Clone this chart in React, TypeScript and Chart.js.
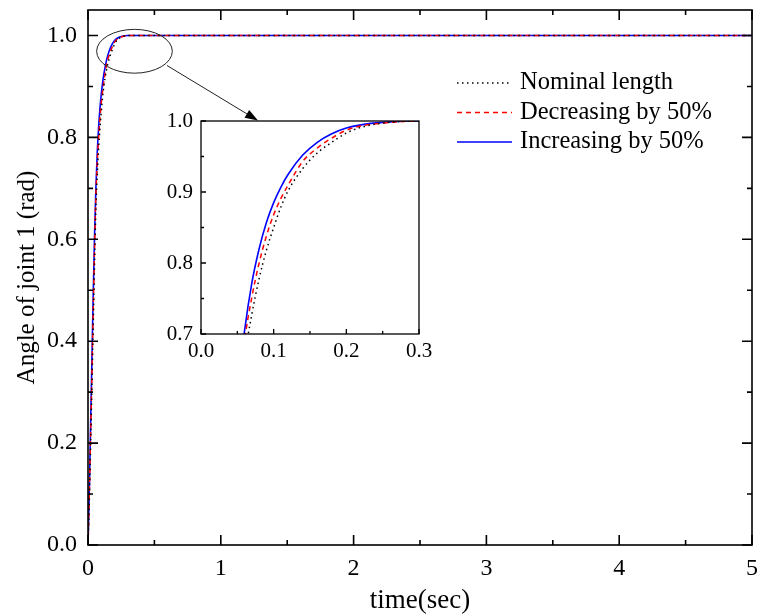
import React, { useEffect, useRef } from "react";
import { Chart, registerables } from "chart.js";

Chart.register(...registerables);

// ---- data ----
const times = [0, 0.01, 0.02, 0.03, 0.04, 0.05, 0.06, 0.07, 0.08, 0.09, 0.1, 0.11, 0.12, 0.14, 0.16, 0.18, 0.2, 0.22, 0.25, 0.3, 0.4, 1, 2, 3, 4, 5];
const nominal = [0, 0.09, 0.2, 0.32, 0.44, 0.56, 0.665, 0.728, 0.778, 0.818, 0.85, 0.879, 0.902, 0.933, 0.955, 0.97, 0.983, 0.991, 0.997, 1.0, 1.0, 1.0, 1.0, 1.0, 1.0, 1.0];
const decreasing = [0, 0.1, 0.22, 0.34, 0.47, 0.59, 0.69, 0.752, 0.8, 0.838, 0.868, 0.891, 0.91, 0.943, 0.962, 0.976, 0.987, 0.993, 0.997, 1.0, 1.0, 1.0, 1.0, 1.0, 1.0, 1.0];
const increasing = [0, 0.11, 0.24, 0.37, 0.5, 0.615, 0.705, 0.772, 0.82, 0.857, 0.885, 0.907, 0.925, 0.952, 0.97, 0.982, 0.99, 0.9945, 0.998, 1.0, 1.0, 1.0, 1.0, 1.0, 1.0, 1.0];
const seriesLabels = ["Nominal length", "Decreasing by 50%", "Increasing by 50%"];

const mainXTicks = [0, 1, 2, 3, 4, 5];
const mainXMinor = [0.5, 1.5, 2.5, 3.5, 4.5];
const mainYTicks = [0, 0.2, 0.4, 0.6, 0.8, 1.0];
const mainYMinor = [0.1, 0.3, 0.5, 0.7, 0.9];
const insetXTicks = [0, 0.1, 0.2, 0.3];
const insetXMinor = [0.05, 0.15, 0.25];
const insetYTicks = [0.7, 0.8, 0.9, 1.0];
const insetYMinor = [0.75, 0.85, 0.95];

// callout (data units of main chart)
const ellipseCenter = [0.35, 0.969];
const ellipseRadii = [0.285, 0.043];
const arrowFrom = [0.595, 0.941];
const arrowTo = [1.28, 0.833];

const FONT = "'Liberation Serif', 'Times New Roman', serif";

function makeDatasets() {
  const pts = (vals: number[]) => times.map((t, i) => ({ x: t, y: vals[i] }));
  return [
    { label: seriesLabels[0], data: pts(nominal), borderColor: "#000000", borderWidth: 1.5, borderDash: [1.5, 3.5], pointRadius: 0, cubicInterpolationMode: "monotone" as const, fill: false },
    { label: seriesLabels[1], data: pts(decreasing), borderColor: "#ff0000", borderWidth: 1.5, borderDash: [5, 4], pointRadius: 0, cubicInterpolationMode: "monotone" as const, fill: false },
    { label: seriesLabels[2], data: pts(increasing), borderColor: "#0000ff", borderWidth: 1.6, pointRadius: 0, cubicInterpolationMode: "monotone" as const, fill: false },
  ];
}

function frameTicksPlugin(xMajor: number[], xMinor: number[], yMajor: number[], yMinor: number[], allSides: boolean, majorLen: number, minorLen: number, lw: number) {
  return {
    id: "frameTicks",
    afterDatasetsDraw(chart: any) {
      const { ctx, chartArea: a, scales } = chart;
      const x = scales.x, y = scales.y;
      ctx.save();
      ctx.strokeStyle = "#000";
      ctx.lineWidth = lw;
      ctx.setLineDash([]);
      ctx.strokeRect(a.left, a.top, a.right - a.left, a.bottom - a.top);
      ctx.beginPath();
      const xt = (v: number, len: number) => {
        const px = x.getPixelForValue(v);
        ctx.moveTo(px, a.bottom); ctx.lineTo(px, a.bottom - len);
        if (allSides) { ctx.moveTo(px, a.top); ctx.lineTo(px, a.top + len); }
      };
      const yt = (v: number, len: number) => {
        const py = y.getPixelForValue(v);
        ctx.moveTo(a.left, py); ctx.lineTo(a.left + len, py);
        if (allSides) { ctx.moveTo(a.right, py); ctx.lineTo(a.right - len, py); }
      };
      xMajor.forEach((v) => xt(v, majorLen));
      xMinor.forEach((v) => xt(v, minorLen));
      yMajor.forEach((v) => yt(v, majorLen));
      yMinor.forEach((v) => yt(v, minorLen));
      ctx.stroke();
      ctx.restore();
    },
  };
}

const legendPlugin = {
  id: "customLegend",
  afterDraw(chart: any) {
    const { ctx, chartArea: a } = chart;
    const x0 = a.left + 369, x1 = x0 + 55, tx = x1 + 8;
    chart.data.datasets.forEach((ds: any, i: number) => {
      const yy = a.top + 73 + i * 29.5;
      ctx.save();
      ctx.strokeStyle = ds.borderColor;
      ctx.lineWidth = ds.borderWidth;
      ctx.setLineDash(ds.borderDash || []);
      ctx.beginPath(); ctx.moveTo(x0, yy); ctx.lineTo(x1, yy); ctx.stroke();
      ctx.setLineDash([]);
      ctx.fillStyle = "#000";
      ctx.font = `24.5px ${FONT}`;
      ctx.textBaseline = "middle";
      ctx.fillText(ds.label, tx, yy);
      ctx.restore();
    });
  },
};

const calloutPlugin = {
  id: "callout",
  afterDraw(chart: any) {
    const { ctx, scales } = chart;
    const x = scales.x, y = scales.y;
    const cx = x.getPixelForValue(ellipseCenter[0]);
    const cy = y.getPixelForValue(ellipseCenter[1]);
    const rx = x.getPixelForValue(ellipseCenter[0] + ellipseRadii[0]) - cx;
    const ry = cy - y.getPixelForValue(ellipseCenter[1] + ellipseRadii[1]);
    ctx.save();
    ctx.strokeStyle = "#222";
    ctx.lineWidth = 1;
    ctx.setLineDash([]);
    ctx.beginPath();
    ctx.ellipse(cx, cy, rx, ry, 0, 0, Math.PI * 2);
    ctx.stroke();
    const x1 = x.getPixelForValue(arrowFrom[0]), y1 = y.getPixelForValue(arrowFrom[1]);
    const x2 = x.getPixelForValue(arrowTo[0]), y2 = y.getPixelForValue(arrowTo[1]);
    const ang = Math.atan2(y2 - y1, x2 - x1);
    const hl = 13, hw = 4.5;
    const bx = x2 - hl * Math.cos(ang), by = y2 - hl * Math.sin(ang);
    ctx.beginPath(); ctx.moveTo(x1, y1); ctx.lineTo(bx, by); ctx.stroke();
    ctx.fillStyle = "#000";
    ctx.beginPath();
    ctx.moveTo(x2, y2);
    ctx.lineTo(bx + hw * Math.sin(ang), by - hw * Math.cos(ang));
    ctx.lineTo(bx - hw * Math.sin(ang), by + hw * Math.cos(ang));
    ctx.closePath();
    ctx.fill();
    ctx.restore();
  },
};

const fitX = (h: number) => (s: any) => { s.height = h; s.paddingLeft = 0; s.paddingRight = 0; };
const fitY = (w: number) => (s: any) => { s.width = w; s.paddingTop = 0; s.paddingBottom = 0; };

export default function App() {
  const mainRef = useRef<HTMLCanvasElement>(null);
  const insetRef = useRef<HTMLCanvasElement>(null);

  useEffect(() => {
    const main = new Chart(mainRef.current!, {
      type: "line",
      data: { datasets: makeDatasets() as any },
      options: {
        animation: false,
        responsive: false,
        events: [],
        layout: { padding: { left: 0, top: 10, right: 6, bottom: 0 } },
        plugins: { legend: { display: false }, tooltip: { enabled: false } },
        scales: {
          x: {
            type: "linear", min: 0, max: 5,
            afterFit: fitX(69),
            afterBuildTicks: (s: any) => { s.ticks = mainXTicks.map((v) => ({ value: v })); },
            grid: { display: false, drawTicks: false },
            border: { display: false },
            ticks: { color: "#000", padding: 9, font: { family: FONT, size: 24 }, callback: (v: any) => String(v), maxRotation: 0 },
            title: { display: true, text: "time(sec)", color: "#000", font: { family: FONT, size: 27, lineHeight: 1.0 }, padding: { top: 0, bottom: 0 } },
          },
          y: {
            type: "linear", min: 0, max: 1.05,
            afterFit: fitY(88),
            afterBuildTicks: (s: any) => { s.ticks = mainYTicks.map((v) => ({ value: v })); },
            grid: { display: false, drawTicks: false },
            border: { display: false },
            ticks: { color: "#000", padding: 11, font: { family: FONT, size: 24 }, callback: (v: any) => Number(v).toFixed(1) },
            title: { display: true, text: "Angle of joint 1 (rad)", color: "#000", font: { family: FONT, size: 25, lineHeight: 1.2 }, padding: { top: 12, bottom: 0 } },
          },
        },
      },
      plugins: [frameTicksPlugin(mainXTicks, mainXMinor, mainYTicks, mainYMinor, true, 10, 5, 1.6), legendPlugin, calloutPlugin],
    });

    const inset = new Chart(insetRef.current!, {
      type: "line",
      data: { datasets: makeDatasets() as any },
      options: {
        animation: false,
        responsive: false,
        events: [],
        layout: { padding: { left: 0, top: 11, right: 31, bottom: 0 } },
        plugins: { legend: { display: false }, tooltip: { enabled: false } },
        scales: {
          x: {
            type: "linear", min: 0, max: 0.3,
            afterFit: fitX(36),
            afterBuildTicks: (s: any) => { s.ticks = insetXTicks.map((v) => ({ value: v })); },
            grid: { display: false, drawTicks: false },
            border: { display: false },
            ticks: { color: "#000", padding: 5, font: { family: FONT, size: 21 }, callback: (v: any) => Number(v).toFixed(1), maxRotation: 0 },
          },
          y: {
            type: "linear", min: 0.7, max: 1.0,
            afterFit: fitY(51),
            afterBuildTicks: (s: any) => { s.ticks = insetYTicks.map((v) => ({ value: v })); },
            grid: { display: false, drawTicks: false },
            border: { display: false },
            ticks: { color: "#000", padding: 8, font: { family: FONT, size: 21 }, callback: (v: any) => Number(v).toFixed(1) },
          },
        },
      },
      plugins: [frameTicksPlugin(insetXTicks, insetXMinor, insetYTicks, insetYMinor, false, 5, 3, 1.3)],
    });

    return () => { main.destroy(); inset.destroy(); };
  }, []);

  return (
    <div style={{ position: "absolute", left: 0, top: 0, width: 758, height: 614, background: "#fff" }}>
      <canvas ref={mainRef} width={758} height={614} style={{ position: "absolute", left: 0, top: 0, width: 758, height: 614 }} />
      <canvas ref={insetRef} width={300} height={260} style={{ position: "absolute", left: 150, top: 110, width: 300, height: 260 }} />
    </div>
  );
}
